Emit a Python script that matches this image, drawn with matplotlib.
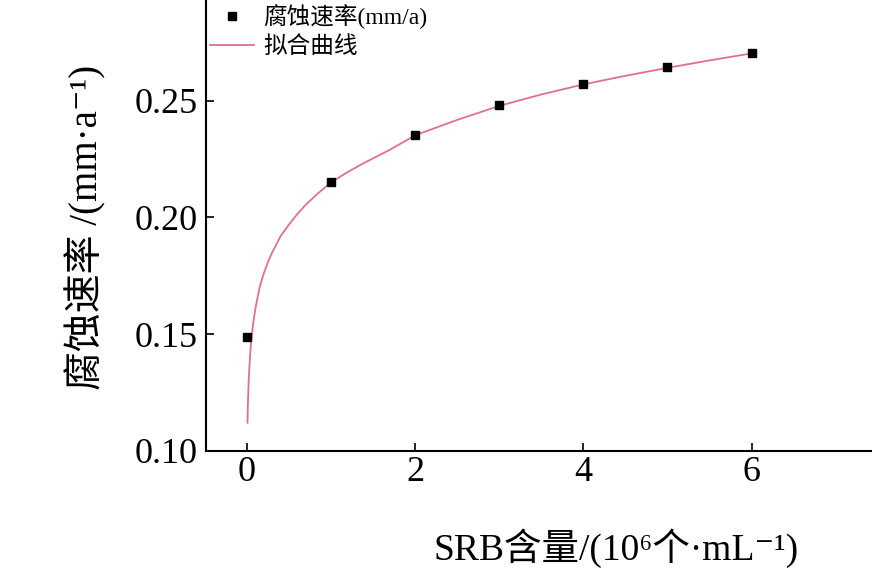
import numpy as np
import matplotlib.pyplot as plt

plt.rcParams['font.family'] = ['Liberation Serif', 'Noto Sans CJK SC', 'DejaVu Serif']

# measured corrosion rate vs SRB content
srb = [0, 1, 2, 3, 4, 5, 6]
rate = [0.1487, 0.2150, 0.2353, 0.2481, 0.2572, 0.2643, 0.2703]

# fitted curve, points
fit_x = [0.006, 0.01, 0.02, 0.035, 0.05, 0.075, 0.1, 0.15, 0.2, 0.25, 0.3,
         0.4, 0.5, 0.6, 0.7, 0.85, 1.0, 1.2, 1.4, 1.7, 2.0, 2.5, 3.0, 3.5,
         4.0, 4.5, 5.0, 5.5, 6.0]
fit_y = [0.112, 0.119, 0.130, 0.140, 0.147, 0.155, 0.161, 0.170, 0.176,
         0.181, 0.185, 0.192, 0.197, 0.2015, 0.2055, 0.2105, 0.215, 0.2195,
         0.2235, 0.229, 0.2352, 0.2418, 0.2478, 0.2527, 0.2570, 0.2607,
         0.2641, 0.2673, 0.2703]

W, H = 872, 576
fig = plt.figure(figsize=(W / 100, H / 100), dpi=100)

# axes run past the top and right edge like the cropped original
x0, x1 = -0.4875, 8.0
y0, y1 = 0.10, 0.30
left_px, bottom_px = 206, 450.7
px_x = 84.1
px_y = 2333.0
ax = fig.add_axes([left_px / W, (H - bottom_px) / H,
                   (x1 - x0) * px_x / W, (y1 - y0) * px_y / H])

ax.plot(fit_x, fit_y, color='#e0708c', lw=1.3, label='拟合曲线', zorder=2)
ax.plot(srb, rate, 's', color='black', ms=6, label='腐蚀速率(mm/a)', zorder=3,
        linestyle='none')

ax.set_xlim(x0, x1)
ax.set_ylim(y0, y1)
ax.set_xticks([0, 2, 4, 6])
ax.set_yticks([0.10, 0.15, 0.20, 0.25])
ax.set_yticklabels(['0.10', '0.15', '0.20', '0.25'])
ax.tick_params(direction='in', length=6, width=1.2, labelsize=26)
ax.tick_params(axis='x', pad=4)
ax.tick_params(axis='y', pad=6)
for s in ax.spines.values():
    s.set_linewidth(1.5)

fig.text(616 / W, 1 - 548 / H, 'SRB含量/(10⁶个·mL⁻¹)', fontsize=27,
         ha='center', va='center')
fig.text(86 / W, 1 - 227 / H, '腐蚀速率 /(mm·a⁻¹)', fontsize=28,
         ha='center', va='center', rotation=90)

h, l = ax.get_legend_handles_labels()
ax.legend(h[::-1], l[::-1], loc='upper left', frameon=False, fontsize=17,
          bbox_to_anchor=(210 / W, 1 - 4 / H), bbox_transform=fig.transFigure,
          borderpad=0, handlelength=1.85, handletextpad=0.4, labelspacing=0.3,
          borderaxespad=0)

fig.savefig('out.png', dpi=100)
